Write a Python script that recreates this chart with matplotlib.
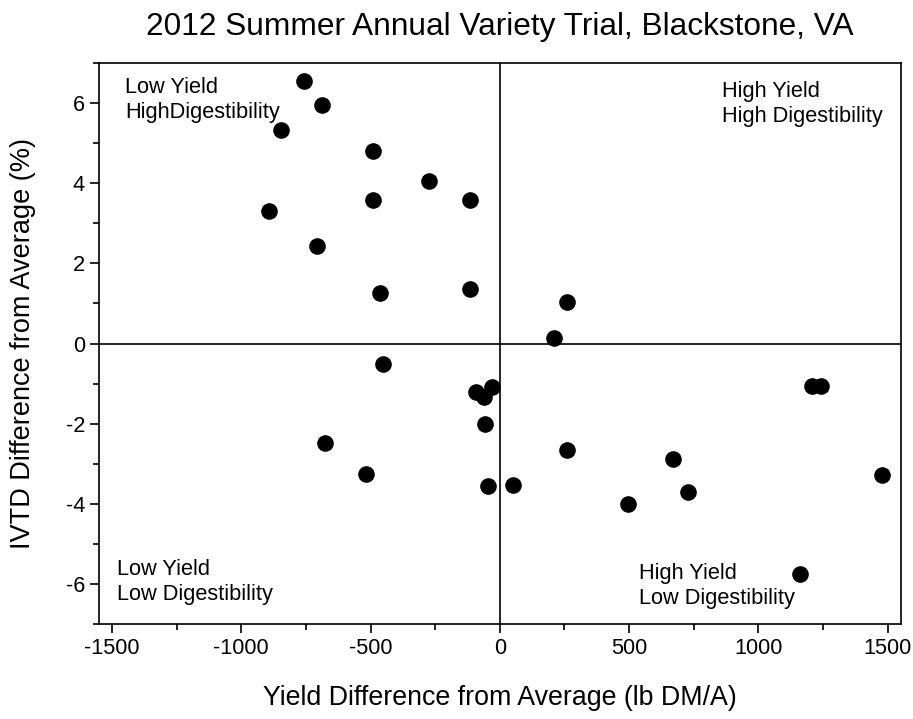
import matplotlib.pyplot as plt
from matplotlib.ticker import MultipleLocator

plt.rcParams['font.family'] = ['Liberation Sans', 'DejaVu Sans']

# yield difference (lb DM/A) and IVTD difference (%) per variety
yield_diff = [-758, -689, -845, -490, -274, -491, -117, -893, -708, -465, -117,
              261, 210,
              -450, -94, -62, -32, -59, -677, -516, -46,
              50, 258, 495, 671, 729, 1208, 1243, 1476, 1160]
ivtd_diff = [6.56, 5.94, 5.32, 4.80, 4.06, 3.59, 3.59, 3.31, 2.44, 1.25, 1.37,
             1.04, 0.13,
             -0.51, -1.22, -1.33, -1.09, -2.00, -2.49, -3.25, -3.55,
             -3.52, -2.65, -4.00, -2.89, -3.71, -1.05, -1.05, -3.28, -5.75]

fig = plt.figure(figsize=(9.13, 7.19), dpi=100)
ax = fig.add_axes([0.1084, 0.1321, 0.8781, 0.7803])

ax.axhline(0, color='black', lw=1.2, zorder=1)
ax.axvline(0, color='black', lw=1.2, zorder=1)
ax.scatter(yield_diff, ivtd_diff, s=120, color='black', zorder=3)

ax.set_xlim(-1550, 1550)
ax.set_ylim(-7, 7)
ax.xaxis.set_major_locator(MultipleLocator(500))
ax.xaxis.set_minor_locator(MultipleLocator(250))
ax.yaxis.set_major_locator(MultipleLocator(2))
ax.yaxis.set_minor_locator(MultipleLocator(1))
ax.tick_params(which='major', length=6.5, width=1.2, labelsize=15.7, direction='out')
ax.tick_params(which='minor', length=4, width=1.2, direction='out')
for sp in ax.spines.values():
    sp.set_linewidth(1.2)

ax.xaxis.set_major_formatter(plt.FuncFormatter(lambda v, p: f'{int(v)}'))
ax.yaxis.set_major_formatter(plt.FuncFormatter(lambda v, p: f'{int(v)}'))

ax.set_xlabel('Yield Difference from Average (lb DM/A)', fontsize=19.3)
ax.set_ylabel('IVTD Difference from Average (%)', fontsize=19.5)
ax.xaxis.set_label_coords(0.5, -0.108)
ax.yaxis.set_label_coords(-0.078, 0.5)
ax.set_title('2012 Summer Annual Variety Trial, Blackstone, VA', fontsize=22.8, pad=20)

kw = dict(fontsize=15.7, va='top', ha='left', linespacing=1.25)
ax.text(-1449, 6.65, 'Low Yield\nHighDigestibility', **kw)
ax.text(859, 6.56, 'High Yield\nHigh Digestibility', **kw)
ax.text(-1481, -5.38, 'Low Yield\nLow Digestibility', **kw)
ax.text(538, -5.48, 'High Yield\nLow Digestibility', **kw)

fig.savefig('out.png', dpi=100)
